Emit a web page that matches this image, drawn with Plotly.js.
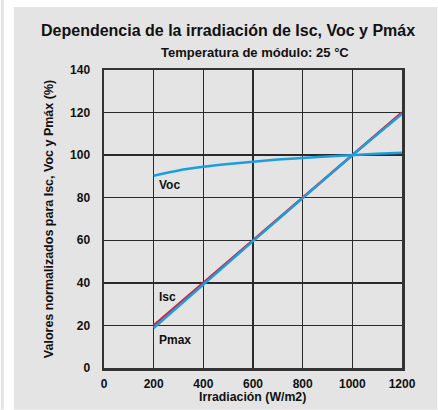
<!DOCTYPE html>
<html>
<head>
<meta charset="utf-8">
<script src="https://cdn.plot.ly/plotly-3.0.1.min.js"></script>
<style>html,body{margin:0;padding:0;background:#fff;}#chart{width:438px;height:410px;}</style>
</head>
<body>
<div id="chart"></div>
<script>
// Data
const irradiance = [200, 400, 600, 800, 1000, 1200];
const iscValues  = [20, 40, 60, 80, 100, 120];
const pmaxValues = [18.8, 39.4, 59.6, 79.8, 100, 119.4];
const vocIrradiance = [200, 300, 400, 500, 600, 700, 800, 900, 1000, 1100, 1200];
const vocValues     = [90.3, 92.8, 94.5, 95.8, 96.9, 97.9, 98.7, 99.4, 100, 100.6, 101.1];
const xTicks = [0, 200, 400, 600, 800, 1000, 1200];
const yTicks = [0, 20, 40, 60, 80, 100, 120, 140];

const BLUE = '#1a9ee0';
const RED = '#d6203c';
const BG = '#e3e4e3';
const FONT = 'Liberation Sans, Arial, Helvetica, sans-serif';

const traces = [
  {x: irradiance, y: iscValues, mode: 'lines', line: {color: RED, width: 2.5}, name: 'Isc', hoverinfo: 'skip'},
  {x: irradiance, y: pmaxValues, mode: 'lines', line: {color: BLUE, width: 2.5}, name: 'Pmax', hoverinfo: 'skip'},
  {x: vocIrradiance, y: vocValues, mode: 'lines', line: {color: BLUE, width: 2.5, shape: 'spline'}, name: 'Voc', hoverinfo: 'skip'}
];

// pixel -> paper helpers for the panel background and text placement
const L = 103.5, R = 35.5, T = 70, B = 41.7;
const W = 438 - L - R, H = 410 - T - B;
const px = v => (v - L) / W;
const py = v => (410 - B - v) / H;

function paperText(text, x, y, size, extra) {
  return Object.assign({text: text, xref: 'paper', yref: 'paper', x: px(x), y: py(y),
    xanchor: 'center', yanchor: 'middle', showarrow: false,
    font: {family: FONT, size: size, color: '#111'}}, extra || {});
}

const layout = {
  width: 438, height: 410,
  margin: {l: L, r: R, t: T, b: B, pad: 0},
  paper_bgcolor: '#ffffff',
  plot_bgcolor: BG,
  showlegend: false,
  font: {family: FONT, color: '#111', size: 12},
  xaxis: {
    range: [0, 1200], tickvals: xTicks, ticktext: xTicks.map(String),
    showgrid: true, gridcolor: '#2a2a2a', gridwidth: 1.3,
    showline: true, linecolor: '#333', linewidth: 2.5, mirror: true,
    zeroline: false, ticks: '', ticklabelstandoff: 3,
    tickfont: {family: FONT, size: 12, color: '#111', weight: 'bold'},
    fixedrange: true
  },
  yaxis: {
    range: [0, 140], tickvals: yTicks, ticktext: yTicks.map(String),
    showgrid: true, gridcolor: '#2a2a2a', gridwidth: 1.3,
    showline: true, linecolor: '#333', linewidth: 2.5, mirror: true,
    zeroline: false, ticks: '', ticklabelstandoff: 9,
    tickfont: {family: FONT, size: 12, color: '#111', weight: 'bold'},
    title: {text: '<b>Valores normalizados para Isc, Voc y Pmáx (%)</b>', standoff: 14,
            font: {family: FONT, size: 12.5, color: '#111'}},
    fixedrange: true
  },
  shapes: [
    {type: 'rect', xref: 'paper', yref: 'paper', x0: px(13), x1: px(438), y0: py(410), y1: py(7),
     fillcolor: BG, line: {width: 0}, layer: 'below'},
    {type: 'rect', xref: 'paper', yref: 'paper', x0: px(0), x1: px(3), y0: py(410), y1: py(0),
     fillcolor: BG, line: {width: 0}, layer: 'below'}
  ],
  annotations: [
    paperText('<b>Dependencia de la irradiación de Isc, Voc y Pmáx</b>', 228, 30, 16),
    paperText('<b>Temperatura de módulo: 25 °C</b>', 255, 52, 13),
    paperText('<b>Irradiación (W/m2)</b>', 252, 397, 12.3),
    {text: '<b>Voc</b>', x: 215, y: 85.8, xanchor: 'left', yanchor: 'middle', showarrow: false, font: {family: FONT, size: 12, color: '#111'}},
    {text: '<b>Isc</b>', x: 215, y: 33.4, xanchor: 'left', yanchor: 'middle', showarrow: false, font: {family: FONT, size: 12, color: '#111'}},
    {text: '<b>Pmax</b>', x: 215, y: 13.3, xanchor: 'left', yanchor: 'middle', showarrow: false, font: {family: FONT, size: 12, color: '#111'}}
  ]
};

Plotly.newPlot('chart', traces, layout, {staticPlot: true, displayModeBar: false});
</script>
</body>
</html>
